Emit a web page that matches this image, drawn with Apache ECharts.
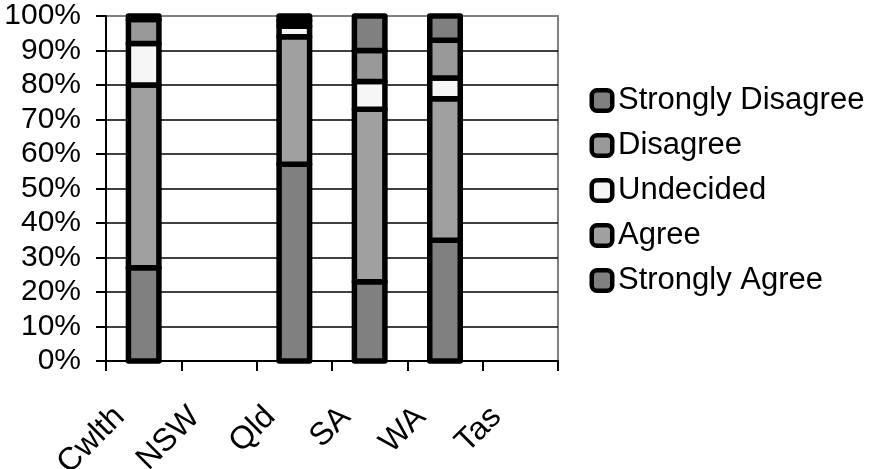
<!DOCTYPE html>
<html>
<head>
<meta charset="utf-8">
<script src="https://cdn.jsdelivr.net/npm/echarts@6/dist/echarts.min.js"></script>
<style>html,body{margin:0;padding:0;background:#fff;}#c{width:870px;height:469px;}</style>
</head>
<body>
<div id="c"></div>
<script>
const categories = ['Cwlth', 'NSW', 'Qld', 'SA', 'WA', 'Tas'];
const stronglyAgree    = [27, null, 57, 23, 35, null];
const agree            = [53, null, 37, 50, 41, null];
const undecided        = [12, null, 3, 8, 6, null];
const disagree         = [7, null, 1.6, 9, 11, null];
const stronglyDisagree = [1, null, 1.4, 10, 7, null];
const yTicks = [0, 10, 20, 30, 40, 50, 60, 70, 80, 90, 100];
const seriesNames = ['Strongly Agree', 'Agree', 'Undecided', 'Disagree', 'Strongly Disagree'];
const seriesValues = [stronglyAgree, agree, undecided, disagree, stronglyDisagree];
const seriesColors = ['#808080', '#a0a0a0', '#f6f6f6', '#999999', '#808080'];
const legendOrder = ['Strongly Disagree', 'Disagree', 'Undecided', 'Agree', 'Strongly Agree'];

const FONT = 'Liberation Sans, Arial, sans-serif';
const chart = echarts.init(document.getElementById('c'), null, {renderer: 'canvas'});

// cumulative stacking built from the arrays
const cum = categories.map(() => 0);
const series = seriesNames.map((name, s) => {
  const data = [];
  categories.forEach((c, i) => {
    const v = seriesValues[s][i];
    if (v == null) return;
    data.push([i, cum[i], cum[i] + v]);
    cum[i] += v;
  });
  const color = seriesColors[s];
  return {
    name: name, type: 'custom', data: data,
    encode: {x: 0, y: [1, 2]},
    itemStyle: {color: color},
    clip: false,
    renderItem: function (params, api) {
      const i = api.value(0);
      const p0 = api.coord([i, api.value(1)]);
      const p1 = api.coord([i, api.value(2)]);
      const w = 30.5;
      return {
        type: 'rect',
        shape: {x: p0[0] - w / 2, y: p1[1], width: w, height: p0[1] - p1[1]},
        style: {fill: color, stroke: '#000', lineWidth: 5.5, lineJoin: 'round'}
      };
    }
  };
});

const keyOf = {'Strongly Disagree': 'sd', 'Disagree': 'd', 'Undecided': 'u', 'Agree': 'a', 'Strongly Agree': 'sa'};
const rich = {gap: {width: 8, height: 16}};
seriesNames.forEach((n, s) => {
  rich[keyOf[n]] = {width: 16, height: 16, backgroundColor: seriesColors[s], borderColor: '#000', borderWidth: 4.5, borderRadius: 3, verticalAlign: 'middle'};
});

const splitColors = yTicks.map((v, i) => i === yTicks.length - 1 ? '#808080' : '#000');

chart.setOption({
  animation: false,
  backgroundColor: '#fff',
  grid: {left: 106, right: 312, top: 16, bottom: 108, show: true, borderColor: '#808080', borderWidth: 2, backgroundColor: 'transparent', outerBoundsMode: 'none', containLabel: false},
  legend: {
    orient: 'vertical', left: 584, top: 80, itemGap: 14, itemWidth: 0, itemHeight: 16, icon: 'none',
    data: legendOrder,
    formatter: function (name) { return '{' + keyOf[name] + '|}{gap|}' + name; },
    textStyle: {fontFamily: FONT, fontSize: 31, color: '#000', lineHeight: 31, rich: rich},
    selectedMode: false
  },
  xAxis: {
    type: 'category', data: categories,
    axisLine: {lineStyle: {color: '#000', width: 2}},
    axisTick: {show: true, length: 10, interval: 0, lineStyle: {color: '#000', width: 2}},
    axisLabel: {interval: 0, rotate: 45, margin: 27, padding: [0, 34, 0, 0], fontFamily: FONT, fontSize: 32, color: '#000'}
  },
  yAxis: {
    type: 'value', min: 0, max: 100, interval: 10,
    axisLine: {show: true, lineStyle: {color: '#000', width: 2}},
    axisTick: {show: true, length: 10, lineStyle: {color: '#000', width: 2}},
    axisLabel: {formatter: '{value}%', margin: 25, fontFamily: FONT, fontSize: 30, color: '#000'},
    splitLine: {show: true, lineStyle: {color: splitColors, width: 1.5}}
  },
  series: series
});
</script>
</body>
</html>
